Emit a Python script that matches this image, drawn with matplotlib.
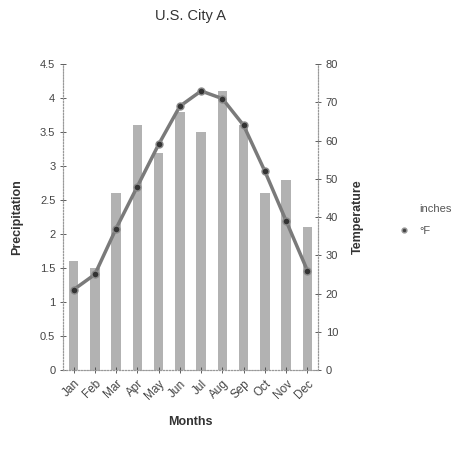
import matplotlib
matplotlib.use("Agg")
import matplotlib.pyplot as plt
from matplotlib.lines import Line2D
from matplotlib.patches import Patch
import numpy as np

plt.rcParams['font.family'] = ['Liberation Sans', 'DejaVu Sans']

months = ["Jan", "Feb", "Mar", "Apr", "May", "Jun", "Jul", "Aug", "Sep", "Oct", "Nov", "Dec"]
precip_inches = [1.6, 1.5, 2.6, 3.6, 3.2, 3.8, 3.5, 4.1, 3.6, 2.6, 2.8, 2.1]
temp_f = [21, 25, 37, 48, 59, 69, 73, 71, 64, 52, 39, 26]

fig = plt.figure(figsize=(4.53, 4.49), dpi=100)
ax = fig.add_axes([0.139, 0.176, 0.563, 0.681])
x = np.arange(len(months))

bars = ax.bar(x, precip_inches, width=0.45, color='#b2b2b2', edgecolor='none', label='inches')
ax.set_ylim(0, 4.5)
ax.set_xlim(-0.5, 11.5)
ax.set_yticks(np.arange(0, 4.51, 0.5))
ax.set_yticklabels(['0', '0.5', '1', '1.5', '2', '2.5', '3', '3.5', '4', '4.5'])
ax.set_xticks(x)
ax.set_xticklabels(months, rotation=45, ha='right', rotation_mode='anchor', fontsize=8.5)
ax.set_ylabel('Precipitation', fontweight='bold', fontsize=9, color='#333333', labelpad=12)
ax.set_xlabel('Months', fontweight='bold', fontsize=9, color='#333333', labelpad=10)
ax.tick_params(axis='y', labelsize=8, colors='#444444', length=4, width=0.6, direction='inout')
ax.tick_params(axis='x', colors='#444444', length=4, width=0.6, direction='inout')

ax2 = ax.twinx()
line, = ax2.plot(x, temp_f, color='#7a7a7a', linewidth=2.5, marker='o', markersize=5,
                 markerfacecolor='#333333', markeredgecolor='#8a8a8a', label='°F')
ax2.set_ylim(0, 80)
ax2.set_yticks(np.arange(0, 81, 10))
ax2.set_ylabel('Temperature', fontweight='bold', fontsize=9, color='#333333', labelpad=10)
ax2.tick_params(labelsize=8, colors='#444444', length=4, width=0.6, direction='inout')

for a in (ax, ax2):
    for s in a.spines.values():
        s.set_linestyle(':')
        s.set_color('#999999')
        s.set_linewidth(0.8)
    a.spines['top'].set_visible(False)

fig.suptitle('U.S. City A', x=0.42, y=0.98, fontsize=10.5, color='#333333')

handles = [Patch(facecolor='none', edgecolor='none'),
           Line2D([], [], linestyle='none', marker='o', markersize=3.5,
                  markerfacecolor='#444444', markeredgecolor='#999999')]
fig.legend(handles, ['inches', '°F'], loc='center left', bbox_to_anchor=(0.855, 0.51),
           frameon=False, fontsize=8, handlelength=1.2, labelspacing=1.0, labelcolor='#555555')

fig.savefig('out.png', dpi=100)
